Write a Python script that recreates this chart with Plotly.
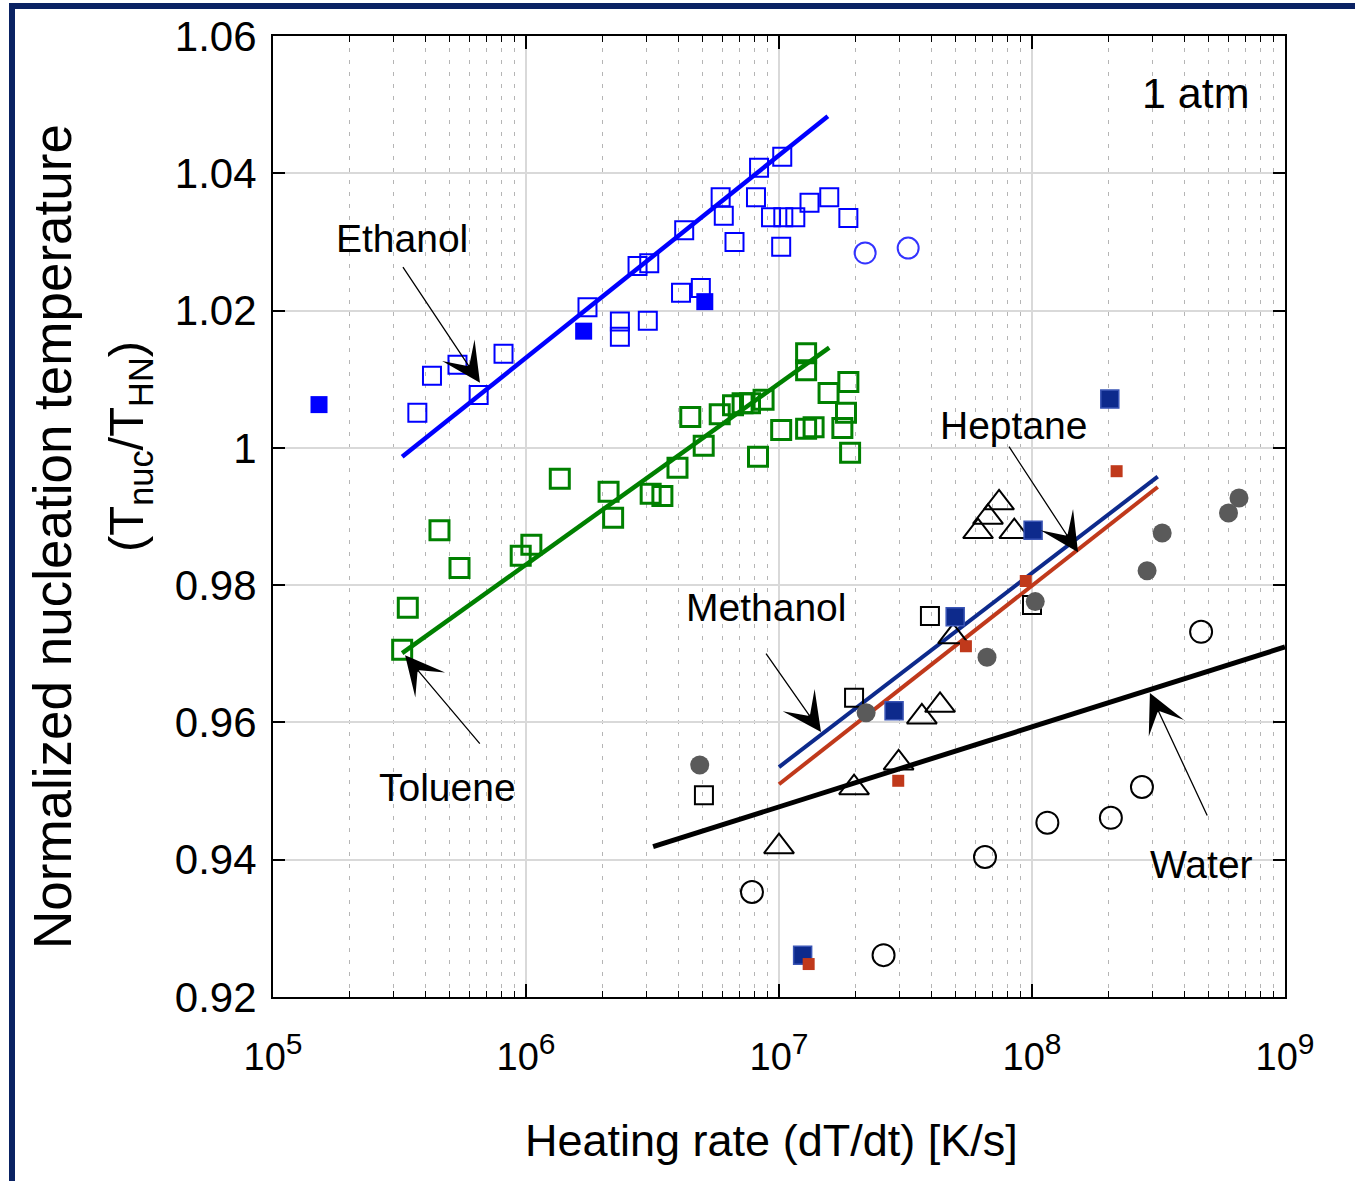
import plotly.graph_objects as go

# ---------------- data ----------------
eth_open_x = [3.72e5, 4.25e5, 5.36e5, 6.5e5, 8.15e5, 1.75e6, 2.35e6, 2.35e6, 3.03e6, 2.76e6, 3.07e6,
              4.22e6, 4.1e6, 4.91e6, 5.88e6, 6.05e6, 6.67e6, 8.11e6, 8.34e6, 1.03e7, 9.3e6, 1.04e7,
              1.16e7, 1.02e7, 1.32e7, 1.58e7, 1.88e7]
eth_open_y = [1.0051, 1.0105, 1.0121, 1.0077, 1.0137, 1.0205, 1.0184, 1.0162, 1.0185, 1.0265, 1.0269,
              1.0317, 1.0226, 1.0233, 1.0365, 1.0338, 1.0300, 1.0365, 1.0408, 1.0424, 1.0336, 1.0336,
              1.0336, 1.0293, 1.0357, 1.0365, 1.0335]
eth_fill_x = [1.52e5, 1.69e6, 5.09e6]
eth_fill_y = [1.0063, 1.0170, 1.0213]
eth_circ_x = [2.19e7, 3.24e7]
eth_circ_y = [1.0284, 1.0291]

tol_x = [3.24e5, 3.41e5, 4.55e5, 5.46e5, 9.53e5, 1.05e6, 1.36e6, 2.12e6, 2.21e6, 3.11e6, 3.46e6,
         3.97e6, 4.46e6, 5.04e6, 5.83e6, 6.58e6, 7.18e6, 7.68e6, 8.69e6, 8.26e6, 1.02e7, 1.28e7,
         1.37e7, 1.28e7, 1.28e7, 1.57e7, 1.88e7, 1.84e7, 1.78e7, 1.91e7]
tol_y = [0.9706, 0.9767, 0.9880, 0.9825, 0.9843, 0.9859, 0.9955, 0.9936, 0.9898, 0.9933, 0.9930,
         0.9971, 1.0045, 1.0003, 1.0049, 1.0062, 1.0065, 1.0065, 1.0070, 0.9987, 1.0026, 1.0028,
         1.0030, 1.0138, 1.0113, 1.0080, 1.0096, 1.0051, 1.0029, 0.9993]

navy_sq_x = [2.03e8, 1.01e8, 4.97e7, 2.85e7, 1.24e7]
navy_sq_y = [1.0071, 0.9880, 0.9754, 0.9617, 0.9261]
red_sq_x = [2.16e8, 9.45e7, 5.48e7, 2.96e7, 1.31e7]
red_sq_y = [0.9966, 0.9806, 0.9711, 0.9515, 0.9248]
blk_sq_x = [5.05e6, 1.98e7, 3.95e7, 1.0e8]
blk_sq_y = [0.9494, 0.9636, 0.9755, 0.9771]
gray_x = [4.86e6, 2.21e7, 6.64e7, 1.03e8, 2.85e8, 3.27e8, 5.98e8, 6.58e8]
gray_y = [0.9538, 0.9614, 0.9695, 0.9776, 0.9821, 0.9876, 0.9905, 0.9927]
tri_x = [1.0e7, 1.98e7, 2.97e7, 3.67e7, 4.33e7, 4.88e7, 6.12e7, 6.7e7, 7.41e7, 8.51e7]
tri_y = [0.9419, 0.9505, 0.9541, 0.9608, 0.9625, 0.9725, 0.9878, 0.9899, 0.9920, 0.9878]
water_x = [7.82e6, 2.59e7, 6.52e7, 1.15e8, 2.05e8, 2.72e8, 4.66e8]
water_y = [0.9353, 0.9261, 0.9404, 0.9454, 0.9461, 0.9506, 0.9732]

# fitted lines (end points)
eth_fit_x = [3.24e5, 1.56e7]
eth_fit_y = [0.9987, 1.0483]
tol_fit_x = [3.24e5, 1.58e7]
tol_fit_y = [0.9701, 1.0146]
meth_fit_x = [1.0e7, 3.14e8]
meth_fit_y = [0.9535, 0.9958]
hept_fit_x = [1.0e7, 3.14e8]
hept_fit_y = [0.9510, 0.9943]
water_fit_x = [3.18e6, 1.0e9]
water_fit_y = [0.9419, 0.9710]

x_tickvals = [1e5, 1e6, 1e7, 1e8, 1e9]
x_ticktext = ["10<sup><span style='font-size:30px'>%d</span></sup>" % e for e in range(5, 10)]
y_tickvals = [0.92, 0.94, 0.96, 0.98, 1.00, 1.02, 1.04, 1.06]
y_ticktext = ["0.92", "0.94", "0.96", "0.98", "1", "1.02", "1.04", "1.06"]

labels = ["Ethanol", "Toluene", "Methanol", "Heptane", "Water"]
# arrow tip positions (log10 x, y) and tail offsets (px)
arrow_tip_logx = [5.818, 5.522, 7.166, 8.182, 8.466]
arrow_tip_y = [1.0095, 0.9698, 0.9586, 0.9848, 0.9643]
arrow_ax = [-78, 76, -56, -70, 58]
arrow_ay = [-117, 90, -80, -107, 124]
label_px = [(402, 238), (447, 787), (766, 607), (1013, 425), (1201, 864)]

# ---------------- figure ----------------
W, H = 1355, 1181
L, R, T, B = 273, 70, 36, 184
PW, PH = W - L - R, H - T - B
def px2paper(px, py):
    return (px - L) / PW, (H - B - py) / PH

FONT = "Liberation Sans, Arial, sans-serif"
fig = go.Figure()

def line(x, y, color, width):
    fig.add_trace(go.Scatter(x=x, y=y, mode="lines", line=dict(color=color, width=width),
                             showlegend=False, hoverinfo="skip"))

def pts(x, y, symbol, size, color, lw, lcolor=None):
    fig.add_trace(go.Scatter(x=x, y=y, mode="markers", showlegend=False,
                             marker=dict(symbol=symbol, size=size, color=color,
                                         line=dict(width=lw, color=lcolor or color))))

line(eth_fit_x, eth_fit_y, "#0000ff", 4.5)
line(tol_fit_x, tol_fit_y, "#008000", 4.5)
line(water_fit_x, water_fit_y, "#000000", 5)
line(meth_fit_x, meth_fit_y, "#0d2a8c", 4)
line(hept_fit_x, hept_fit_y, "#c0391b", 4)

pts(eth_open_x, eth_open_y, "square-open", 18, "#0000ff", 2)
pts(eth_fill_x, eth_fill_y, "square", 17, "#0000ff", 0)
pts(eth_circ_x, eth_circ_y, "circle-open", 21, "#3333ff", 2)
pts(tol_x, tol_y, "square-open", 19, "#008000", 3)
pts(blk_sq_x, blk_sq_y, "square-open", 18, "#000000", 2)
pts(gray_x, gray_y, "circle", 19, "#5a5a5a", 0)
pts(tri_x, tri_y, "triangle-up-open", 26, "#000000", 2)
pts(water_x, water_y, "circle-open", 22, "#000000", 2)
pts(navy_sq_x, navy_sq_y, "square", 18, "#0d2a8c", 1.5, "#3a55b5")
pts(red_sq_x, red_sq_y, "square", 12, "#c0391b", 0)

ann = []
for i, lab in enumerate(labels):
    px, py = label_px[i]
    xp, yp = px2paper(px, py)
    ann.append(dict(text=lab, x=xp, y=yp, xref="paper", yref="paper", showarrow=False,
                    xanchor="center", yanchor="middle", font=dict(size=39, color="black", family=FONT)))
    ann.append(dict(text="", x=arrow_tip_logx[i], y=arrow_tip_y[i], xref="x", yref="y",
                    showarrow=True, ax=arrow_ax[i], ay=arrow_ay[i], arrowhead=3,
                    arrowsize=5, arrowwidth=1.3, arrowcolor="black"))

xp, yp = px2paper(1196, 93)
ann.append(dict(text="1 atm", x=xp, y=yp, xref="paper", yref="paper", showarrow=False,
                xanchor="center", yanchor="middle", font=dict(size=43, color="black", family=FONT)))
xp, yp = px2paper(52, 537)
ann.append(dict(text="Normalized nucleation temperature", x=xp, y=yp, xref="paper", yref="paper",
                showarrow=False, textangle=-90, xanchor="center", yanchor="middle",
                font=dict(size=53, color="black", family=FONT)))
xp, yp = px2paper(129, 447)
ann.append(dict(text="(T<sub>nuc</sub>/T<sub>HN</sub>)", x=xp, y=yp, xref="paper", yref="paper",
                showarrow=False, textangle=-90, xanchor="center", yanchor="middle",
                font=dict(size=49, color="black", family=FONT)))
xp, yp = px2paper(771, 1140)
ann.append(dict(text="Heating rate (dT/dt) [K/s]", x=xp, y=yp, xref="paper", yref="paper",
                showarrow=False, xanchor="center", yanchor="middle",
                font=dict(size=45, color="black", family=FONT)))

minor_vals = [m * 10 ** e for e in range(5, 9) for m in range(2, 10)]

x0p, y0p = px2paper(12, 6)
fig.update_layout(
    width=W, height=H, autosize=False,
    margin=dict(l=L, r=R, t=T, b=B),
    paper_bgcolor="white", plot_bgcolor="white",
    font=dict(family=FONT, color="black"),
    annotations=ann,
    shapes=[dict(type="rect", xref="paper", yref="paper", x0=x0p, y0=-0.4, x1=1.4, y1=y0p,
                 line=dict(color="#0a2263", width=6), fillcolor="rgba(0,0,0,0)", layer="above")],
    xaxis=dict(type="log", range=[5, 9], tickvals=x_tickvals, ticktext=x_ticktext,
               ticks="inside", ticklen=13, tickwidth=1.5, tickcolor="black",
               showline=True, linecolor="black", linewidth=2, mirror="allticks",
               showgrid=True, gridcolor="#d9d9d9", gridwidth=1.5, zeroline=False,
               tickfont=dict(size=38, color="black", family=FONT), ticklabelstandoff=25,
               minor=dict(tickvals=minor_vals, ticks="inside", ticklen=6, tickwidth=1.2,
                          tickcolor="black", showgrid=True, gridcolor="#b5b5b5",
                          gridwidth=1, griddash="4px,8px")),
    yaxis=dict(range=[0.92, 1.06], tickvals=y_tickvals, ticktext=y_ticktext,
               ticks="inside", ticklen=12, tickwidth=1.5, tickcolor="black",
               showline=True, linecolor="black", linewidth=2, mirror="allticks",
               showgrid=True, gridcolor="#d9d9d9", gridwidth=1.5, zeroline=False,
               tickfont=dict(size=42, color="black", family=FONT), ticklabelstandoff=6),
)

fig.write_html("out.html")
